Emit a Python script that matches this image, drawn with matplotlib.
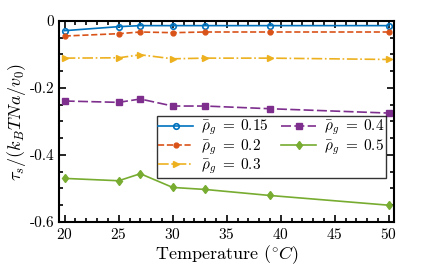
import numpy as np
import matplotlib
matplotlib.use("Agg")
import matplotlib.pyplot as plt
from matplotlib.ticker import MultipleLocator, FixedLocator

plt.rcParams['font.family'] = 'cmr10'
plt.rcParams['mathtext.fontset'] = 'cm'
plt.rcParams['axes.unicode_minus'] = False
plt.rcParams['axes.formatter.use_mathtext'] = True

# data
temp = [20, 25, 27, 30, 33, 39, 50]
tau_015 = [-0.029, -0.017, -0.014, -0.014, -0.014, -0.014, -0.014]
tau_02 = [-0.045, -0.038, -0.033, -0.035, -0.033, -0.033, -0.033]
tau_03 = [-0.111, -0.110, -0.101, -0.113, -0.111, -0.111, -0.115]
tau_04 = [-0.239, -0.243, -0.233, -0.254, -0.254, -0.262, -0.275]
tau_05 = [-0.470, -0.477, -0.456, -0.497, -0.503, -0.521, -0.550]
labels = [r'$\bar{\rho}_g\;=\;0.15$', r'$\bar{\rho}_g\;=\;0.2$', r'$\bar{\rho}_g\;=\;0.3$',
          r'$\bar{\rho}_g\;=\;0.4$', r'$\bar{\rho}_g\;=\;0.5$']

fig = plt.figure(figsize=(4.36, 2.72), dpi=100)
ax = fig.add_axes([0.136, 0.184, 0.768, 0.739])

ax.plot(temp, tau_015, '-o', c='#0072BD', lw=1.2, ms=4, mfc='none', mew=1.2, label=labels[0])
ax.plot(temp, tau_02, '--o', c='#D95319', lw=1.2, ms=3.5, label=labels[1])
ax.plot(temp, tau_03, '-.>', c='#EDB120', lw=1.2, ms=5, label=labels[2])
ax.plot(temp, tau_04, '-s', c='#7E2F8E', lw=1.2, ms=4, dashes=(6, 2), label=labels[3])
ax.plot(temp, tau_05, '-d', c='#77AC30', lw=1.2, ms=4.5, label=labels[4])

ax.set_xlim(19.5, 50.5)
ax.set_ylim(-0.6, 0)
ax.xaxis.set_major_locator(MultipleLocator(5))
ax.xaxis.set_minor_locator(MultipleLocator(1))
ax.yaxis.set_major_locator(FixedLocator([-0.6, -0.4, -0.2, 0]))
ax.yaxis.set_minor_locator(MultipleLocator(0.05))
ax.set_yticklabels(['-0.6', '-0.4', '-0.2', '0'])
ax.tick_params(which='both', direction='in', top=True, right=True, labelsize=11, width=1.2)
ax.tick_params(which='major', length=5)
ax.tick_params(which='minor', length=3)
for s in ax.spines.values():
    s.set_linewidth(1.5)

ax.set_xlabel(r'Temperature ($^{\circ}C$)', fontsize=13, labelpad=1)
ax.set_ylabel(r'$\tau_s/(k_BTNa/v_0)$', fontsize=13, labelpad=1)

leg = ax.legend(ncol=2, loc='upper right', bbox_to_anchor=(0.975, 0.525), fontsize=11,
                frameon=True, fancybox=False, edgecolor='black', handlelength=2.3,
                borderpad=0.1, labelspacing=0.0, columnspacing=0.8, handletextpad=0.5,
                borderaxespad=0)
leg.get_frame().set_linewidth(1.0)

plt.savefig('out.png', dpi=100)
